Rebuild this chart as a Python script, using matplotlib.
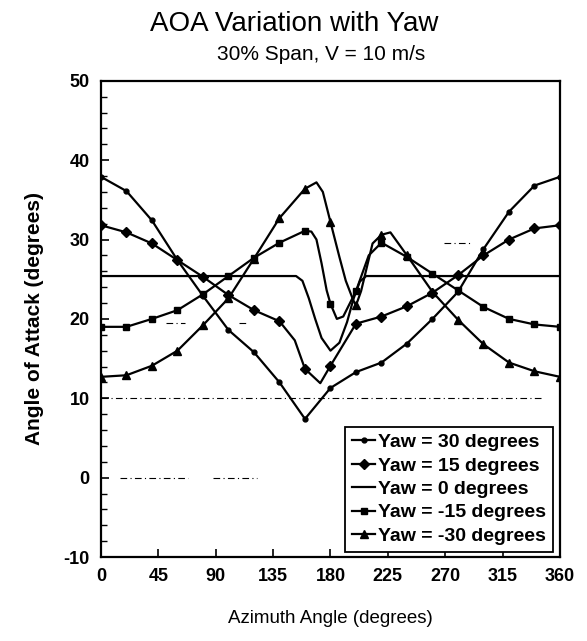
import matplotlib
matplotlib.use("Agg")
import matplotlib.pyplot as plt
from matplotlib.ticker import MultipleLocator

plt.rcParams['font.family'] = ['Liberation Sans', 'DejaVu Sans']
plt.rcParams['axes.unicode_minus'] = False

# values (azimuth deg, angle of attack deg)
yaw30_az = [0, 20, 40, 60, 80, 100, 120, 140, 160, 180, 200, 220, 240, 260, 280, 300, 320, 340, 360]
yaw30_aoa = [37.9, 36.1, 32.4, 27.4, 22.9, 18.6, 15.8, 12.0, 7.4, 11.3, 13.3, 14.5, 16.9, 20.0, 23.4, 28.8, 33.5, 36.8, 37.9]

yaw15_az = [0, 20, 40, 60, 80, 100, 120, 140, 152, 160, 172, 180, 200, 220, 240, 260, 280, 300, 320, 340, 360]
yaw15_aoa = [31.8, 30.9, 29.5, 27.4, 25.3, 23.0, 21.1, 19.7, 17.3, 13.7, 11.9, 14.1, 19.4, 20.3, 21.6, 23.3, 25.5, 28.0, 30.0, 31.4, 31.8]

yaw0_az = [0, 153, 158, 163, 168, 173, 180, 187, 193, 198, 203, 208, 360]
yaw0_aoa = [25.4, 25.4, 24.8, 22.6, 20.0, 17.6, 16.0, 17.0, 19.6, 22.5, 24.7, 25.4, 25.4]

yawm15_az = [0, 20, 40, 60, 80, 100, 120, 140, 160, 165, 169, 173, 177, 180, 185, 190, 200, 210, 220, 240, 260, 280, 300, 320, 340, 360]
yawm15_aoa = [19.0, 19.0, 20.0, 21.1, 23.1, 25.4, 27.7, 29.6, 31.1, 31.0, 30.0, 27.0, 23.6, 21.9, 20.0, 20.3, 23.5, 28.0, 29.6, 27.8, 25.7, 23.6, 21.5, 20.0, 19.3, 19.0]

yawm30_az = [0, 20, 40, 60, 80, 100, 120, 140, 160, 169, 174, 180, 187, 192, 198, 200, 204, 213, 220, 227, 240, 260, 280, 300, 320, 340, 360]
yawm30_aoa = [12.7, 12.9, 14.1, 16.0, 19.2, 22.6, 27.6, 32.7, 36.4, 37.2, 36.0, 32.2, 27.8, 24.8, 22.3, 21.7, 23.5, 29.5, 30.6, 30.9, 28.0, 23.4, 19.9, 16.8, 14.5, 13.4, 12.7]

labels = ["Yaw = 30 degrees", "Yaw = 15 degrees", "Yaw = 0 degrees",
          "Yaw = -15 degrees", "Yaw = -30 degrees"]

# faint grid remnants in the scan: level, start, end
ref_y = [10, 0, 0, 19.5, 19.5, 29.6]
ref_x0 = [0, 15, 88, 51, 108, 269]
ref_x1 = [345, 68, 122, 66, 116, 291]

fig = plt.figure(figsize=(5.87, 6.41), dpi=100)
ax = fig.add_axes([0.172, 0.131, 0.782, 0.743])

for y, a, b in zip(ref_y, ref_x0, ref_x1):
    ax.hlines(y, a, b, colors='black', linewidth=0.8, linestyles=(0, (6, 3, 1, 3)), zorder=1)


def marks(az):
    return [i for i, a in enumerate(az) if a % 20 == 0]


series = [
    (yaw30_az, yaw30_aoa, 'o', 3.5),
    (yaw15_az, yaw15_aoa, 'D', 5),
    (yaw0_az, yaw0_aoa, None, 0),
    (yawm15_az, yawm15_aoa, 's', 5),
    (yawm30_az, yawm30_aoa, '^', 6),
]
for (az, aoa, mk, ms), lab in zip(series, labels):
    if mk is None:
        ax.plot(az, aoa, color='black', linewidth=1.6, label=lab, zorder=3)
    else:
        ax.plot(az, aoa, color='black', linewidth=1.6, marker=mk, markersize=ms,
                markevery=marks(az), label=lab, zorder=3)

ax.set_xlim(0, 360)
ax.set_ylim(-10, 50)
ax.xaxis.set_major_locator(MultipleLocator(45))
ax.yaxis.set_major_locator(MultipleLocator(10))
ax.yaxis.set_minor_locator(MultipleLocator(2))
ax.tick_params(axis='both', which='both', direction='in', top=False, right=False)
ax.tick_params(axis='both', which='major', length=6, width=1.2, labelsize=13, pad=8)
ax.tick_params(axis='y', which='minor', length=4, width=1.0)
for lbl in ax.get_xticklabels() + ax.get_yticklabels():
    lbl.set_fontweight('bold')
for sp in ax.spines.values():
    sp.set_linewidth(1.6)

ax.set_xlabel("Azimuth Angle (degrees)", fontsize=13.5, labelpad=18)
ax.set_ylabel("Angle of Attack (degrees)", fontsize=15, fontweight='bold', labelpad=14)

fig.text(0.502, 0.962, "AOA Variation with Yaw", ha='center', va='center', fontsize=20)
fig.text(0.547, 0.915, "30% Span, V = 10 m/s", ha='center', va='center', fontsize=15)

leg = ax.legend(loc='lower right', bbox_to_anchor=(0.993, 0.003), fontsize=14,
                handlelength=1.2, handletextpad=0.15, borderpad=0.35, labelspacing=0.3,
                fancybox=False, framealpha=1, edgecolor='black', borderaxespad=0.2)
leg.get_frame().set_linewidth(1.3)
for t in leg.get_texts():
    t.set_fontweight('bold')

fig.savefig("out.png", dpi=100)
